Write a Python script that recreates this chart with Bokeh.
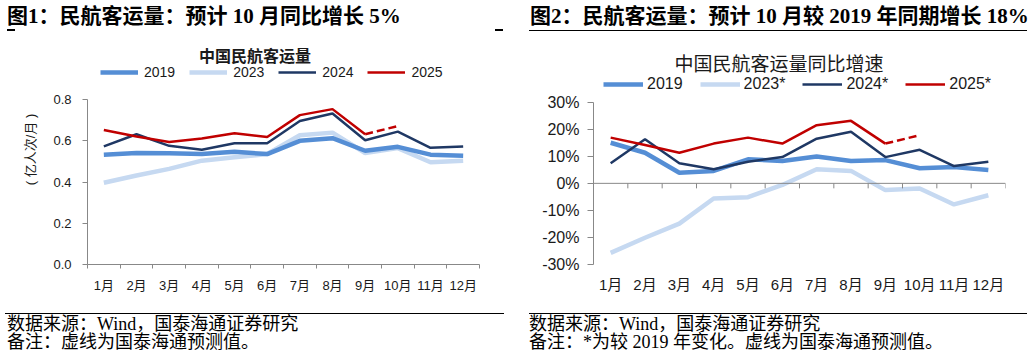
from bokeh.plotting import figure
from bokeh.models import (FixedTicker, NumeralTickFormatter, PrintfTickFormatter,
                          Label, Legend, LegendItem, Span, Div)
from bokeh.layouts import row, column
from bokeh.embed import file_html
from bokeh.resources import INLINE

# ---------------- data ----------------
months = ["1月", "2月", "3月", "4月", "5月", "6月", "7月", "8月", "9月", "10月", "11月", "12月"]

# 民航客运量 (亿人次/月)
vol_2019 = [0.533, 0.541, 0.540, 0.536, 0.547, 0.536, 0.600, 0.613, 0.552, 0.571, 0.533, 0.528]
vol_2023 = [0.397, 0.432, 0.464, 0.504, 0.520, 0.536, 0.627, 0.640, 0.541, 0.565, 0.496, 0.504]
vol_2024 = [0.573, 0.632, 0.576, 0.557, 0.588, 0.588, 0.696, 0.733, 0.603, 0.645, 0.566, 0.573]
vol_2025 = [0.653, 0.621, 0.595, 0.611, 0.637, 0.619, 0.725, 0.754, 0.632]
vol_2025_fc = 0.672          # 10月预测

# 同比增速 (%)
yoy_2019 = [15.0, 11.3, 3.9, 4.6, 8.9, 8.3, 9.9, 8.3, 8.6, 5.6, 6.0, 4.9]
yoy_2023 = [-25.7, -20.1, -14.9, -5.6, -5.1, -0.6, 5.2, 4.6, -2.5, -1.9, -7.8, -4.4]
yoy_2024 = [7.4, 16.3, 7.4, 5.2, 8.0, 9.7, 16.5, 19.1, 9.7, 12.4, 6.4, 8.0]
yoy_2025 = [16.9, 14.2, 11.3, 14.7, 16.9, 14.7, 21.5, 23.1, 14.7]
yoy_2025_fc = 17.8           # 10月预测

left_ticks = [0.0, 0.2, 0.4, 0.6, 0.8]
right_ticks = [-30, -20, -10, 0, 10, 20, 30]

title1 = "图1：民航客运量：预计 10 月同比增长 5%"
title2 = "图2：民航客运量：预计 10 月较 2019 年同期增长 18%"
chart1 = "中国民航客运量"
chart2 = "中国民航客运量同比增速"
source = "数据来源：Wind，国泰海通证券研究"
note1 = "备注：虚线为国泰海通预测值。"
note2 = "备注：*为较 2019 年变化。虚线为国泰海通预测值。"

# ---------------- style ----------------
C19, C23, C24, C25 = "#558ED5", "#C6D9F1", "#1F3864", "#C00000"
AX = "#888888"
TXT = "#1a1a1a"
SANS = "'Liberation Sans', 'Noto Sans CJK SC'"
CJK = "'Noto Sans CJK SC'"
SERIF = "'Liberation Serif', 'Noto Sans CJK SC'"

n = len(months)
xc = [i + 0.5 for i in range(n)]
bounds = list(range(n + 1))

PW = 516          # panel width
TOP_H = 34        # title strip height
FIG_H = 272       # figure height
FOOT_H = 54       # footer height


def base_fig(bl, br, bb, yr):
    p = figure(width=PW, height=FIG_H, x_range=(0, n), y_range=yr,
               output_backend="svg", toolbar_location=None,
               min_border_left=bl, min_border_right=br,
               min_border_top=0, min_border_bottom=bb)
    p.outline_line_color = None
    p.xgrid.visible = False
    p.ygrid.visible = False
    p.background_fill_color = "white"
    p.border_fill_color = "white"
    return p


def add_label(p, fl, fb, x, y, text, size, font, bold=False, align="left"):
    p.add_layout(Label(x=x - fl, y=fb - y, x_units="screen", y_units="screen",
                       text=text, text_font=font, text_font_size=f"{size}px",
                       text_font_style="bold" if bold else "normal",
                       text_align=align, text_baseline="middle", text_color=TXT))


def style_axes(xa, ya, xsize, ysize):
    for a, s in ((xa, xsize), (ya, ysize)):
        a.major_label_text_font = SANS
        a.major_label_text_font_size = f"{s}px"
        a.major_label_text_color = TXT
        a.axis_line_color = AX
        a.major_tick_line_color = AX
        a.minor_tick_line_color = AX
        a.major_tick_in = 0
        a.minor_tick_in = 0


# ================= left panel =================
L_FL, L_FB, L_TOP0 = 87, 267, 100       # frame left, value-0 line, value-0.8 line (page px)
y1_end = 0.8 * (L_FB - TOP_H) / (L_FB - L_TOP0)
p1 = base_fig(L_FL, PW - 479, TOP_H + FIG_H - L_FB, (0, y1_end))

r23 = p1.line(xc, vol_2023, line_color=C23, line_width=4.5)
r19 = p1.line(xc, vol_2019, line_color=C19, line_width=4.5)
r24 = p1.line(xc, vol_2024, line_color=C24, line_width=2.5)
r25 = p1.line(xc[:len(vol_2025)], vol_2025, line_color=C25, line_width=2.5)
p1.line(xc[len(vol_2025) - 1:len(vol_2025) + 1], [vol_2025[-1], vol_2025_fc],
        line_color=C25, line_width=2.5, line_dash="8 4")

xa, ya = p1.xaxis[0], p1.yaxis[0]
style_axes(xa, ya, 13, 13)
xa.ticker = FixedTicker(ticks=xc, minor_ticks=bounds)
xa.major_label_overrides = {x: m for x, m in zip(xc, months)}
xa.major_tick_out = 0
xa.minor_tick_out = 4
xa.major_label_standoff = 9
ya.ticker = FixedTicker(ticks=left_ticks, minor_ticks=[])
ya.formatter = NumeralTickFormatter(format="0.0")
ya.bounds = (left_ticks[0], left_ticks[-1])
ya.major_tick_out = 5
ya.major_label_standoff = 11
ya.axis_label = "( 亿人次/月 )"
ya.axis_label_text_font = SANS
ya.axis_label_text_font_size = "13px"
ya.axis_label_text_font_style = "normal"
ya.axis_label_standoff = 12
ya.axis_label_text_color = TXT

leg1 = Legend(items=[LegendItem(label="2019", renderers=[r19]),
                     LegendItem(label="2023", renderers=[r23]),
                     LegendItem(label="2024", renderers=[r24]),
                     LegendItem(label="2025", renderers=[r25])],
              orientation="horizontal", location=(13, 184),
              glyph_width=38, glyph_height=14, label_height=14,
              label_standoff=6, spacing=14, padding=0, margin=0,
              border_line_color=None, background_fill_alpha=0,
              label_text_font=SANS, label_text_font_size="14px",
              label_text_color=TXT)
p1.add_layout(leg1)
add_label(p1, L_FL, L_FB, 254.5, 57, chart1, 16, CJK, bold=True, align="center")

# ================= right panel =================
R_FL, R_FB, R_TOP = 593, 264, 101.7     # frame left, -30% line, +30% line (page px)
y2_end = right_ticks[0] + (right_ticks[-1] - right_ticks[0]) * (R_FB - TOP_H) / (R_FB - R_TOP)
p2 = base_fig(R_FL - PW, 2 * PW - 1005, TOP_H + FIG_H - R_FB, (right_ticks[0], y2_end))

s23 = p2.line(xc, yoy_2023, line_color=C23, line_width=4.5)
s19 = p2.line(xc, yoy_2019, line_color=C19, line_width=4.5)
s24 = p2.line(xc, yoy_2024, line_color=C24, line_width=2.5)
s25 = p2.line(xc[:len(yoy_2025)], yoy_2025, line_color=C25, line_width=2.5)
p2.line(xc[len(yoy_2025) - 1:len(yoy_2025) + 1], [yoy_2025[-1], yoy_2025_fc],
        line_color=C25, line_width=2.5, line_dash="8 4")

# zero line with downward ticks at month boundaries
p2.add_layout(Span(location=0, dimension="width", line_color=AX, line_width=1))
tick_len = 5 * (right_ticks[-1] - right_ticks[0]) / (R_FB - R_TOP)
p2.segment(x0=bounds, y0=[0] * len(bounds), x1=bounds, y1=[-tick_len] * len(bounds),
           line_color=AX, line_width=1)

xb, yb = p2.xaxis[0], p2.yaxis[0]
style_axes(xb, yb, 15, 16)
xb.ticker = FixedTicker(ticks=xc, minor_ticks=[])
xb.major_label_overrides = {x: m for x, m in zip(xc, months)}
xb.major_tick_out = 0
xb.axis_line_color = None
xb.major_label_standoff = 11
yb.ticker = FixedTicker(ticks=right_ticks, minor_ticks=[])
yb.formatter = PrintfTickFormatter(format="%d%%")
yb.bounds = (right_ticks[0], right_ticks[-1])
yb.major_tick_out = 6
yb.major_label_standoff = 8

leg2 = Legend(items=[LegendItem(label="2019", renderers=[s19]),
                     LegendItem(label="2023*", renderers=[s23]),
                     LegendItem(label="2024*", renderers=[s24]),
                     LegendItem(label="2025*", renderers=[s25])],
              orientation="horizontal", location=(10, 171),
              glyph_width=40, glyph_height=16, label_height=16,
              label_standoff=4, spacing=17, padding=0, margin=0,
              border_line_color=None, background_fill_alpha=0,
              label_text_font=SANS, label_text_font_size="16px",
              label_text_color=TXT)
p2.add_layout(leg2)
add_label(p2, R_FL, R_FB, 778.5, 61.5, chart2, 19, CJK, align="center")


# ================= titles & footers (HTML strips) =================
def rule(left, top, width, h):
    return (f'<div style="position:absolute;left:{left}px;top:{top}px;width:{width}px;'
            f'height:{h}px;background:#000;"></div>')


def text(left, center, s, size, weight="normal"):
    lh = size + 2
    return (f'<div style="position:absolute;left:{left}px;top:{center - lh / 2}px;'
            f'font-family:{SERIF};font-size:{size}px;font-weight:{weight};line-height:{lh}px;'
            f'white-space:nowrap;color:#000;">{s}</div>')


def strip(h, inner):
    return Div(width=PW, height=h, margin=0,
               text=f'<div style="position:relative;width:{PW}px;height:{h}px;overflow:visible;">{inner}</div>')


t1 = strip(TOP_H, text(7, 16.5, title1, 21, "bold") + rule(7, 29.4, 8, 1.3) + rule(495, 29.4, 8, 1.3))
t2 = strip(TOP_H, text(14, 16.5, title2, 21, "bold") + rule(13, 29.5, 498, 1.6))

FT = TOP_H + FIG_H
f1 = strip(FOOT_H, rule(5, 313 - FT, 499, 1.2) + text(7, 324 - FT, source, 18) + text(7, 342 - FT, note1, 18))
f2 = strip(FOOT_H, rule(13, 313 - FT, 498, 1.2) + text(13, 324 - FT, source, 18) + text(13, 342 - FT, note2, 18))

layout = column(row(t1, t2), row(p1, p2), row(f1, f2))
open("out.html", "w").write(file_html(layout, INLINE))
